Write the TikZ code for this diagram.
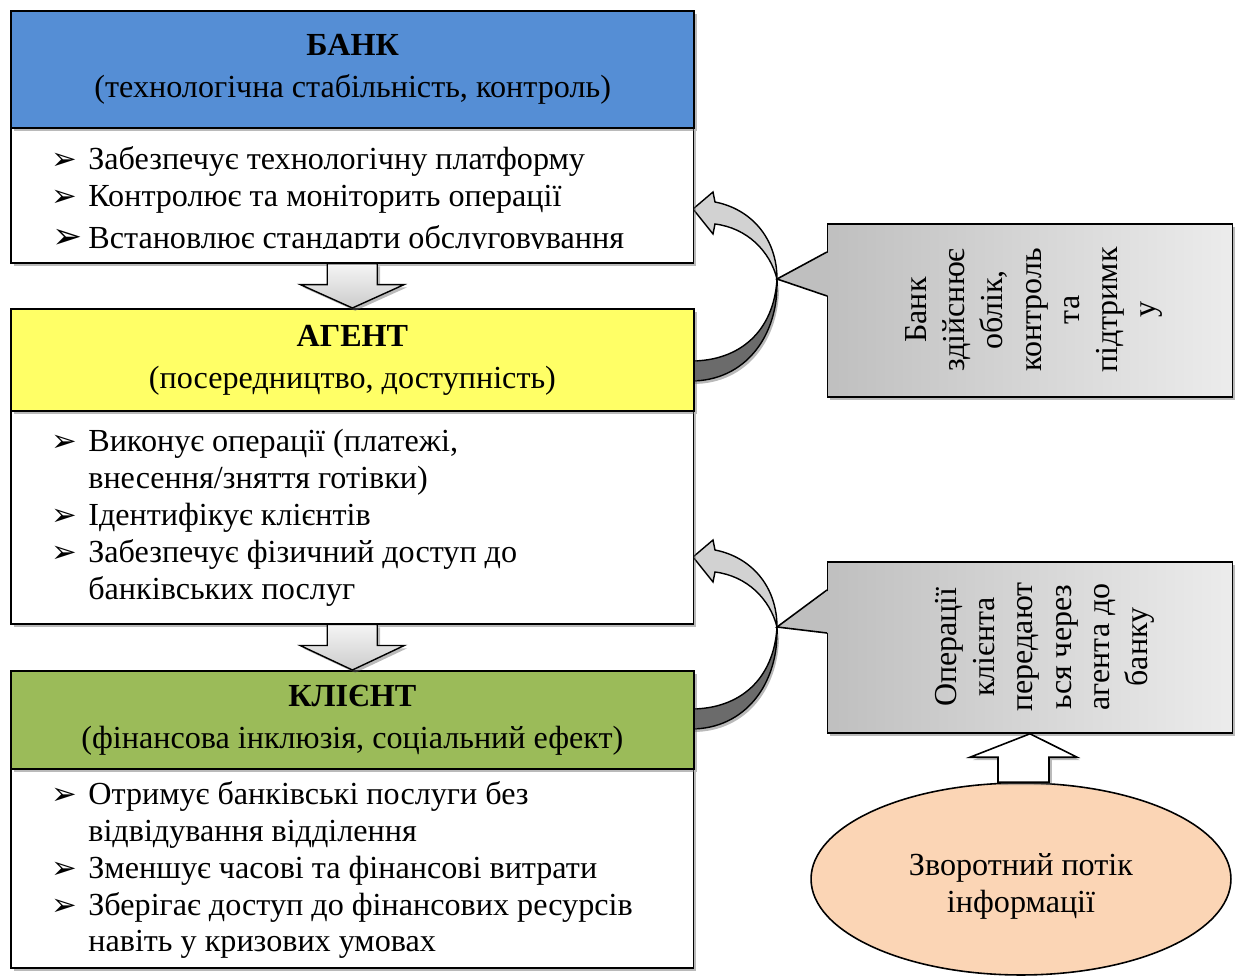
\documentclass[tikz,border=0pt]{standalone}
\usepackage{fontspec}
\setmainfont{Liberation Serif}
\newfontfamily\bulfont{DejaVu Sans}
\usetikzlibrary{shadows,calc,positioning,shapes.geometric}

\definecolor{bankblue}{HTML}{558ED5}
\definecolor{agentyellow}{HTML}{FFFF66}
\definecolor{clientgreen}{HTML}{9BBB59}
\definecolor{flowpeach}{HTML}{FBD5B5}
\definecolor{ribbonlight}{HTML}{D2D2D2}
\definecolor{ribbondark}{HTML}{6B6B6B}

\newcommand{\itm}{\llap{\makebox[21pt][l]{\bulfont\fontsize{17.5}{17.5}\selectfont ➢}}}
\newcommand{\blockdown}[2]{%
	\draw[blockarrow] ($(#1)+(-25,0)$) -- ($(#1)+(25,0)$) -- ($(#1)+(25,21)$) -- ($(#1)+(52,21)$)
		-- (#2) -- ($(#1)+(-52,21)$) -- ($(#1)+(-25,21)$) -- cycle;}

\tikzset{
	softshadow/.style={drop shadow={shadow xshift=1.6pt, shadow yshift=-1.6pt, opacity=.45, fill=black!60}},
	hdrbox/.style={draw, line width=1.1pt, minimum width=13.66cm, anchor=north west, align=center, inner sep=0pt,
		font=\fontsize{18.3}{24}\selectfont, softshadow},
	lstbox/.style={draw, line width=0.9pt, fill=white, minimum width=13.66cm, anchor=north west, inner sep=0pt, softshadow},
	lsttext/.style={anchor=north west, align=left, inner sep=0pt, font=\fontsize{18.3}{21}\selectfont},
	callbox/.style={draw, line width=0.9pt, left color=gray!50, right color=gray!15, minimum width=8.1cm,
		inner sep=0pt, softshadow},
	calltext/.style={rotate=90, align=center, inner sep=0pt, font=\fontsize{18.2}{21.8}\selectfont},
	blockarrow/.style={draw, line width=0.8pt, top color=gray!8, bottom color=gray!40, softshadow},
	ribbon/.style={draw, line width=0.8pt},
}

\begin{document}
\begin{tikzpicture}[x=0.02cm, y=-0.02cm]
	\useasboundingbox (0,0) rectangle (1238,976);

	% turning arrows back to the upper box
	\coordinate (apex1) at (777,279);
	\coordinate (apex2) at (777,627);
	\foreach \a in {apex1,apex2}{
		\begin{scope}[shift={(\a)}]
			\fill[gray!55, shift={(2,3)}] (0,0) .. controls (2,57) and (-32,102) .. (-86,102) -- (-86,82)
				.. controls (-37,82) and (-3,52) .. (0,0) -- cycle;
			\draw[ribbon, fill=ribbondark] (0,0) .. controls (2,57) and (-32,102) .. (-86,102) -- (-86,82)
				.. controls (-37,82) and (-3,52) .. (0,0) -- cycle;
			\draw[ribbon, fill=ribbonlight] (-62,-77) .. controls (-26,-70) and (0,-41) .. (0,0)
				.. controls (-7,-28) and (-30,-51) .. (-62,-55) -- (-64,-45) -- (-84,-70) -- (-64,-87) -- cycle;
		\end{scope}
	}

	% the three levels
	\node[lstbox, minimum height=2.7cm] (banklist) at (10,127) {};
	\node[hdrbox, fill=bankblue, minimum height=2.34cm, line width=1.4pt] (bank) at (10,10)
		{\textbf{БАНК}\\(технологічна стабільність, контроль)};
	\begin{scope}
		\clip (banklist.north west) rectangle (693,249);
		\node[lsttext] (banktxt) at (88,146) {\itm Забезпечує технологічну платформу\\
			\itm Контролює та моніторить операції\\[3pt]
			\llap{\makebox[20.5pt][l]{\bulfont\fontsize{20.5}{20.5}\selectfont ➢}}Встановлює стандарти обслуговування};
	\end{scope}

	\node[lstbox, minimum height=4.26cm] (agentlist) at (10,410) {};
	\node[hdrbox, fill=agentyellow, minimum height=2.04cm] (agent) at (10,308)
		{\textbf{АГЕНТ}\\(посередництво, доступність)};
	\node[lsttext] (agenttxt) at (88,429) {\itm Виконує операції (платежі,\\
		внесення/зняття готівки)\\
		\itm Ідентифікує клієнтів\\
		\itm Забезпечує фізичний доступ до\\
		банківських послуг};

	\node[lstbox, minimum height=3.98cm] (clientlist) at (10,768) {};
	\node[hdrbox, fill=clientgreen, minimum height=1.96cm] (client) at (10,670)
		{\textbf{КЛІЄНТ}\\(фінансова інклюзія, соціальний ефект)};
	\node[lsttext] (clienttxt) at (88,781) {\itm Отримує банківські послуги без\\
		відвідування відділення\\
		\itm Зменшує часові та фінансові витрати\\
		\itm Зберігає доступ до фінансових ресурсів\\
		навіть у кризових умовах};

	\blockdown{banklist.south}{agent.north}
	\blockdown{agentlist.south}{client.north}

	% notes on the right
	\node[callbox, minimum height=3.46cm] (note1) at (1030,310.5) {};
	\fill[gray!50] (829,252) -- (apex1) -- (829,296) -- cycle;
	\draw[line width=0.9pt] (827,252) -- (apex1) -- (827,296);
	\node[calltext] (note1txt) at (1034,310) {Банк\\здійснює\\облік,\\контроль\\та\\підтримк\\у};

	\node[callbox, minimum height=3.42cm] (note2) at (1030,647.5) {};
	\fill[gray!50] (829,590) -- (apex2) -- (829,633) -- cycle;
	\draw[line width=0.9pt] (827,590) -- (apex2) -- (827,633);
	\node[calltext] (note2txt) at (1045,647) {Операції\\клієнта\\передают\\ься через\\агента до\\банку};

	% feedback
	\node[draw, line width=0.9pt, ellipse, fill=flowpeach, minimum width=8.4cm, minimum height=3.84cm] (flow)
		at (1021,879) {};
	\node[align=center, inner sep=0pt, font=\fontsize{18.3}{21}\selectfont] (flowtxt) at (1021,886)
		{Зворотний потік\\інформації};
	\draw[line width=0.9pt, fill=white, softshadow] ($(flow.north)+(-23,0)$) -- ++(0,-25) -- ++(-28,0)
		-- (note2.south) -- ($(flow.north)+(56,-25)$) -- ++(-28,0) -- ++(0,25) -- cycle;
\end{tikzpicture}
\end{document}
